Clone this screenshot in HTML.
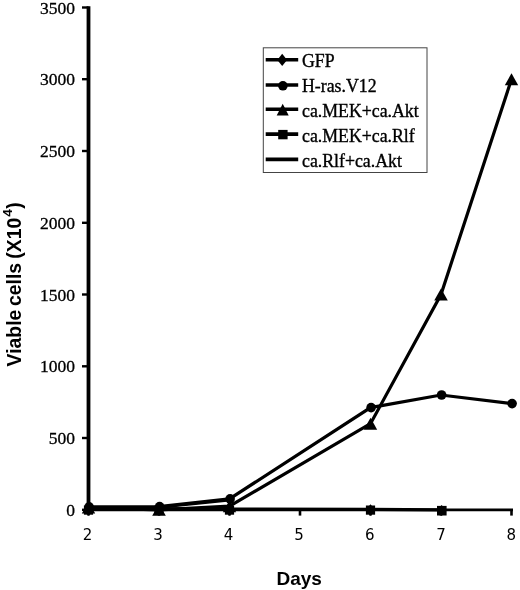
<!DOCTYPE html>
<html><head><meta charset="utf-8"><title>Viable cells chart</title>
<style>
html,body{margin:0;padding:0;background:#fff}
svg{display:block}
.yl{font-family:"Liberation Serif",serif;font-size:17.5px;fill:#000;stroke:#000;stroke-width:0.3px}
.xl{font-family:"DejaVu Sans","Liberation Sans",sans-serif;font-size:15px;fill:#000}
.lg{font-family:"Liberation Serif",serif;font-size:17.8px;fill:#000;stroke:#000;stroke-width:0.35px}
.t{font-family:"Liberation Sans",sans-serif;font-size:20px;font-weight:bold;fill:#000}
</style></head><body>
<svg width="520" height="590" viewBox="0 0 520 590">
<rect width="520" height="590" fill="#fff"/>
<line x1="88.5" y1="6.3" x2="88.5" y2="511.2" stroke="#000" stroke-width="3.8"/>
<line x1="88.5" y1="509.8" x2="513" y2="509.8" stroke="#000" stroke-width="2.8"/>
<line x1="82" y1="509.8" x2="88.5" y2="509.8" stroke="#000" stroke-width="2.4"/>
<text x="75" y="515.8" text-anchor="end" class="yl">0</text>
<line x1="82" y1="438.0" x2="88.5" y2="438.0" stroke="#000" stroke-width="2.4"/>
<text x="75" y="444.0" text-anchor="end" class="yl">500</text>
<line x1="82" y1="366.3" x2="88.5" y2="366.3" stroke="#000" stroke-width="2.4"/>
<text x="75" y="372.3" text-anchor="end" class="yl">1000</text>
<line x1="82" y1="294.5" x2="88.5" y2="294.5" stroke="#000" stroke-width="2.4"/>
<text x="75" y="300.5" text-anchor="end" class="yl">1500</text>
<line x1="82" y1="222.8" x2="88.5" y2="222.8" stroke="#000" stroke-width="2.4"/>
<text x="75" y="228.8" text-anchor="end" class="yl">2000</text>
<line x1="82" y1="151.0" x2="88.5" y2="151.0" stroke="#000" stroke-width="2.4"/>
<text x="75" y="157.0" text-anchor="end" class="yl">2500</text>
<line x1="82" y1="79.2" x2="88.5" y2="79.2" stroke="#000" stroke-width="2.4"/>
<text x="75" y="85.2" text-anchor="end" class="yl">3000</text>
<line x1="82" y1="7.5" x2="88.5" y2="7.5" stroke="#000" stroke-width="2.4"/>
<text x="75" y="13.5" text-anchor="end" class="yl">3500</text>
<line x1="88.5" y1="509.8" x2="88.5" y2="515.6" stroke="#000" stroke-width="2.6"/>
<text x="87.5" y="539.6" text-anchor="middle" class="xl">2</text>
<line x1="159.0" y1="509.8" x2="159.0" y2="515.6" stroke="#000" stroke-width="2.6"/>
<text x="158.0" y="539.6" text-anchor="middle" class="xl">3</text>
<line x1="229.5" y1="509.8" x2="229.5" y2="515.6" stroke="#000" stroke-width="2.6"/>
<text x="228.5" y="539.6" text-anchor="middle" class="xl">4</text>
<line x1="300.0" y1="509.8" x2="300.0" y2="515.6" stroke="#000" stroke-width="2.6"/>
<text x="299.0" y="539.6" text-anchor="middle" class="xl">5</text>
<line x1="370.5" y1="509.8" x2="370.5" y2="515.6" stroke="#000" stroke-width="2.6"/>
<text x="369.7" y="539.6" text-anchor="middle" class="xl">6</text>
<line x1="441.0" y1="509.8" x2="441.0" y2="515.6" stroke="#000" stroke-width="2.6"/>
<text x="441.0" y="539.6" text-anchor="middle" class="xl">7</text>
<line x1="511.5" y1="509.8" x2="511.5" y2="515.6" stroke="#000" stroke-width="2.6"/>
<text x="511.2" y="539.6" text-anchor="middle" class="xl">8</text>
<line x1="159.0" y1="507.8" x2="229.5" y2="500.6" stroke="#000" stroke-width="2"/>
<polyline points="88.5,508.4 159.0,508.7 229.5,509.1 370.5,509.4 441.0,509.8" fill="none" stroke="#000" stroke-width="3.2"/>
<polyline points="88.5,506.9 159.0,506.6 229.5,498.9 370.5,407.6 441.0,395.0 511.5,403.6" fill="none" stroke="#000" stroke-width="3.2"/>
<polyline points="88.5,507.6 159.0,509.8 229.5,506.2 370.5,423.7 441.0,294.5 511.5,79.2" fill="none" stroke="#000" stroke-width="3.2"/>
<circle cx="89.1" cy="506.9" r="4.8"/>
<circle cx="159.6" cy="506.6" r="4.8"/>
<circle cx="230.1" cy="498.9" r="4.8"/>
<circle cx="371.1" cy="407.6" r="4.8"/>
<circle cx="441.6" cy="395.0" r="4.8"/>
<circle cx="512.1" cy="403.6" r="4.8"/>
<polygon points="88.5,501.6 95.2,513.6 81.8,513.6"/>
<polygon points="159.0,503.8 165.8,515.8 152.2,515.8"/>
<polygon points="229.5,500.2 236.2,512.2 222.8,512.2"/>
<polygon points="370.5,417.7 377.2,429.7 363.8,429.7"/>
<polygon points="441.0,288.5 447.8,300.5 434.2,300.5"/>
<polygon points="511.5,73.2 518.2,85.2 504.8,85.2"/>
<rect x="83.9" y="505.5" width="9.2" height="9.2"/>
<polygon points="88.5,504.2 93.3,510.0 88.5,515.8 83.7,510.0"/>
<rect x="154.4" y="505.5" width="9.2" height="9.2"/>
<polygon points="159.0,504.2 163.8,510.0 159.0,515.8 154.2,510.0"/>
<rect x="224.9" y="505.5" width="9.2" height="9.2"/>
<polygon points="229.5,504.2 234.3,510.0 229.5,515.8 224.7,510.0"/>
<rect x="365.9" y="505.5" width="9.2" height="9.2"/>
<polygon points="370.5,504.2 375.3,510.0 370.5,515.8 365.7,510.0"/>
<rect x="437.0" y="505.9" width="9.6" height="9.6"/>
<polygon points="441.6,505.1 446.4,510.4 441.6,515.7 436.8,510.4"/>
<rect x="263.3" y="47.8" width="163.7" height="124.7" fill="#fff" stroke="#444" stroke-width="1"/>
<line x1="265.7" y1="59.7" x2="298.2" y2="59.7" stroke="#000" stroke-width="3.6"/>
<text x="302" y="66.8" class="lg">GFP</text>
<line x1="265.7" y1="85" x2="298.2" y2="85" stroke="#000" stroke-width="3.6"/>
<text x="302" y="92.1" class="lg">H-ras.V12</text>
<line x1="265.7" y1="109.3" x2="298.2" y2="109.3" stroke="#000" stroke-width="3.6"/>
<text x="302" y="116.8" class="lg">ca.MEK+ca.Akt</text>
<line x1="265.7" y1="134.1" x2="298.2" y2="134.1" stroke="#000" stroke-width="3.6"/>
<text x="302" y="141.6" class="lg">ca.MEK+ca.Rlf</text>
<line x1="265.7" y1="159.4" x2="298.2" y2="159.4" stroke="#000" stroke-width="3.6"/>
<text x="302" y="166.5" class="lg">ca.Rlf+ca.Akt</text>
<polygon points="282.2,53.8 287.1,59.9 282.2,66.0 277.3,59.9"/>
<circle cx="282.9" cy="85.8" r="4.8"/>
<polygon points="282.7,103.8 288.7,115.6 276.7,115.6"/>
<rect x="278.2" y="129.9" width="9.4" height="9.4"/>
<text x="299.2" y="584.8" text-anchor="middle" class="t" style="font-size:19px">Days</text>
<text transform="translate(21.4,366.4) rotate(-90)" text-anchor="start" class="t" style="font-size:19.4px">Viable<tspan dx="-1.8"> cells</tspan><tspan dx="-1.2"> (X10</tspan><tspan dy="-9" dx="1" font-size="13.6">4</tspan><tspan dy="9" dx="0.5">)</tspan></text>
</svg>
</body></html>
